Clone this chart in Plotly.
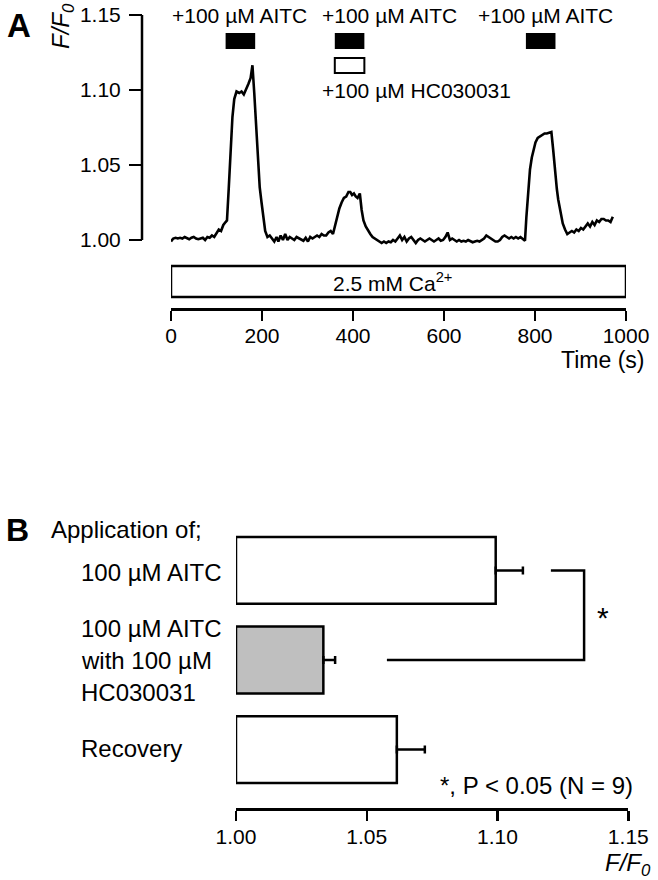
import plotly.graph_objects as go

# ---------------- Panel A data ----------------
time_s = [0,5,10,15,20,25,30,35,40,45,50,55,60,65,70,75,80,85,90,95,100,105,110,115,120,
          123,127,131,135,139,144,150,155,160,165,170,175,179,183,187,191,195,199,203,207,212,217,222,227,232,236,241,246,251,256,261,266,271,276,281,286,291,296,301,306,311,316,321,326,331,336,341,346,351,356,
          361,365,370,375,380,385,390,394,398,402,406,410,415,419,423,428,433,438,443,448,453,458,463,468,473,478,483,488,493,498,503,508,513,518,523,528,533,538,543,548,553,558,563,568,573,578,583,588,593,598,603,608,613,618,623,628,633,638,643,648,653,658,663,668,673,678,683,688,693,698,703,708,713,718,723,728,733,738,743,748,753,758,763,768,773,778,
          781,785,789,793,797,801,806,811,816,821,826,831,836,840,844,848,851,856,861,866,871,876,881,886,891,896,901,906,911,916,921,926,931,936,941,946,951,956,961,966,971]
f_f0 = [0.999,1.001,1.0015,1.001,1.0015,1.001,1.002,1.001,1.0005,1.0015,1.002,1.001,1.0005,1.001,1.0015,1.000,1.002,1.0015,1.003,1.002,1.005,1.007,1.006,1.010,1.012,
        1.013,1.035,1.062,1.082,1.094,1.099,1.098,1.099,1.097,1.100,1.104,1.108,1.1165,1.098,1.075,1.050,1.035,1.025,1.014,1.006,1.002,1.003,1.001,0.999,1.002,0.999,1.003,1.000,1.004,1.000,1.002,1.001,1.000,1.002,1.001,1.000,0.9995,1.0015,0.999,1.002,1.001,1.002,1.003,1.002,1.004,1.003,1.003,1.005,1.006,1.004,
        1.010,1.016,1.021,1.025,1.028,1.029,1.032,1.032,1.030,1.031,1.029,1.028,1.031,1.020,1.013,1.009,1.006,1.004,1.002,1.001,1.000,0.999,0.998,0.999,0.998,0.999,0.9985,1.000,0.999,1.001,1.003,1.000,1.002,0.999,1.001,1.002,1.000,0.998,1.000,1.001,1.000,0.999,1.000,1.001,1.000,0.999,1.000,1.001,0.9995,1.000,1.002,1.005,1.000,1.001,1.000,0.999,1.000,0.999,0.9995,0.999,1.000,0.999,0.9985,0.999,0.9995,0.999,1.000,1.001,1.003,1.002,1.001,1.000,0.999,0.999,1.000,1.002,1.003,1.002,1.001,1.002,1.001,1.002,1.001,1.002,1.001,0.9995,
        1.015,1.035,1.047,1.055,1.061,1.065,1.068,1.069,1.070,1.071,1.071,1.0715,1.072,1.060,1.045,1.034,1.027,1.018,1.011,1.007,1.004,1.005,1.006,1.005,1.007,1.006,1.008,1.007,1.009,1.011,1.009,1.012,1.010,1.013,1.012,1.014,1.014,1.013,1.013,1.012,1.0155]

aitc_start = [120, 360, 780]
aitc_end = [185, 425, 845]
hc_start = [360]
hc_end = [425]
time_ticks = [0, 200, 400, 600, 800, 1000]
ff_ticks = [1.00, 1.05, 1.10, 1.15]
ff_tick_labels = ["1.00", "1.05", "1.10", "1.15"]

# ---------------- Panel B data ----------------
conditions = ["100 µM AITC", "100 µM AITC with 100 µM HC030031", "Recovery"]
mean_ff0 = [1.0993, 1.0334, 1.0615]
sem_ff0 = [0.0104, 0.0045, 0.0107]
bar_colors = ["white", "#bfbfbf", "white"]

W, H = 658, 880
FONT = "Liberation Sans, Arial, sans-serif"


def px(x):
    return x / W


def py(y):
    return 1 - y / H


fig = go.Figure()

# Trace panel A
fig.add_trace(go.Scatter(x=time_s, y=f_f0, mode="lines",
                         line=dict(color="black", width=2.6),
                         xaxis="x", yaxis="y", showlegend=False, hoverinfo="skip"))

# Bar panel B
fig.add_trace(go.Bar(y=[0, 1, 2], x=[m - 1.0 for m in mean_ff0], base=1.0,
                     orientation="h", width=0.747,
                     marker=dict(color=bar_colors, line=dict(color="black", width=2.5)),
                     error_x=dict(type="data", array=sem_ff0, arrayminus=[0, 0, 0],
                                  symmetric=False, color="black", thickness=2.5, width=4),
                     xaxis="x2", yaxis="y2", showlegend=False, hoverinfo="skip"))

axis_font = dict(family=FONT, size=21, color="black")

# y range of panel A: 1.15 at 15px, 1500 px per unit
ya_bottom = 0.985
fig.update_layout(
    width=W, height=H, autosize=False,
    margin=dict(l=0, r=0, t=0, b=0, pad=0, autoexpand=False),
    paper_bgcolor="white", plot_bgcolor="rgba(0,0,0,0)",
    font=dict(family=FONT, size=20, color="black"),
    bargap=0,
    xaxis=dict(domain=[px(171), px(626)], range=[0, 1000], anchor="free",
               position=py(309), showline=True, linewidth=2.5, linecolor="black",
               ticks="outside", ticklen=10, tickwidth=2.5, tickcolor="black",
               tickvals=time_ticks, tickfont=axis_font, ticklabelstandoff=-3,
               showgrid=False, zeroline=False, automargin=False),
    yaxis=dict(domain=[py(15 + (1.15 - ya_bottom) * 1500), py(15)], range=[ya_bottom, 1.15],
               anchor="free", position=px(142), showline=False,
               ticks="outside", ticklen=13, tickwidth=2.5, tickcolor="black",
               tickvals=ff_ticks, ticktext=ff_tick_labels, tickfont=axis_font,
               ticklabelstandoff=4,
               showgrid=False, zeroline=False, automargin=False),
    xaxis2=dict(domain=[px(236), px(628.3)], range=[1.0, 1.15], anchor="free",
                position=py(809), showline=True, linewidth=2.5, linecolor="black",
                ticks="outside", ticklen=10, tickwidth=2.5, tickcolor="black",
                tickvals=ff_ticks, ticktext=ff_tick_labels, tickfont=axis_font,
                ticklabelstandoff=-2,
                showgrid=False, zeroline=False, automargin=False),
    yaxis2=dict(domain=[py(794.4), py(525.6)], range=[2.5, -0.5], anchor="x2",
                visible=False, showgrid=False, zeroline=False),
)

shapes = []
# y-axis line of panel A
shapes.append(dict(type="line", xref="paper", yref="y", x0=px(142), x1=px(142),
                   y0=1.0, y1=1.15, line=dict(color="black", width=2.5)))
# AITC application bars
for s, e in zip(aitc_start, aitc_end):
    shapes.append(dict(type="rect", xref="x", yref="paper", x0=s, x1=e,
                       y0=py(49), y1=py(33), fillcolor="black", line=dict(width=0)))
for s, e in zip(hc_start, hc_end):
    shapes.append(dict(type="rect", xref="x", yref="paper", x0=s, x1=e,
                       y0=py(73), y1=py(58), fillcolor="white",
                       line=dict(color="black", width=2)))
# Ca2+ box
shapes.append(dict(type="rect", xref="x", yref="paper", x0=0, x1=1000,
                   y0=py(297), y1=py(266), fillcolor="white",
                   line=dict(color="black", width=2.5)))
# significance bracket
br_top_left, br_right, br_bot_left = 1.1204, 1.1331, 1.0577
shapes.append(dict(type="path", xref="x2", yref="y2",
                   path=f"M {br_top_left} 0 L {br_right} 0 L {br_right} 1 L {br_bot_left} 1",
                   line=dict(color="black", width=2.5)))
fig.update_layout(shapes=shapes)

ann = []


def add_text(text, x, y, xanchor="center", size=20, xref="paper", **kw):
    ann.append(dict(text=text, x=x, y=y, xref=xref, yref="paper", xanchor=xanchor,
                    yanchor="middle", showarrow=False,
                    font=dict(family=FONT, size=size, color="black"), **kw))


add_text("<b>A</b>", px(5), py(25), xanchor="left", size=33)
add_text("<i>F/F<sub>0</sub></i>", px(63), py(26), size=24, textangle=-90)
add_text("+100 µM AITC", 150, py(15), xref="x", size=21)
add_text("+100 µM AITC", px(320), py(15), xanchor="left", size=21)
add_text("+100 µM AITC", 824, py(15), xref="x", size=21)
add_text("+100 µM HC030031", px(320), py(90), xanchor="left", size=21)
add_text("2.5 mM Ca<sup>2+</sup>", 487, py(282), xref="x", size=21)
add_text("Time (s)", px(646), py(360), xanchor="right", size=23)

add_text("<b>B</b>", px(4), py(530), xanchor="left", size=32)
add_text("Application of;", px(49), py(529), xanchor="left", size=24)
add_text("100 µM AITC", px(79), py(572), xanchor="left", size=24)
add_text("100 µM AITC", px(79), py(628), xanchor="left", size=24)
add_text("with 100 µM", px(79), py(660), xanchor="left", size=24)
add_text("HC030031", px(79), py(692), xanchor="left", size=24)
add_text("Recovery", px(79), py(748), xanchor="left", size=24)
add_text("*", px(603), py(617), size=30)
add_text("*, P < 0.05 (N = 9)", px(635), py(785), xanchor="right", size=24)
add_text("<i>F/F<sub>0</sub></i>", px(653), py(864), xanchor="right", size=24)
fig.update_layout(annotations=ann)

fig.write_html("out.html", config={"displayModeBar": False, "staticPlot": True},
               post_script="document.body.style.margin='0px';document.body.style.overflow='hidden';")
